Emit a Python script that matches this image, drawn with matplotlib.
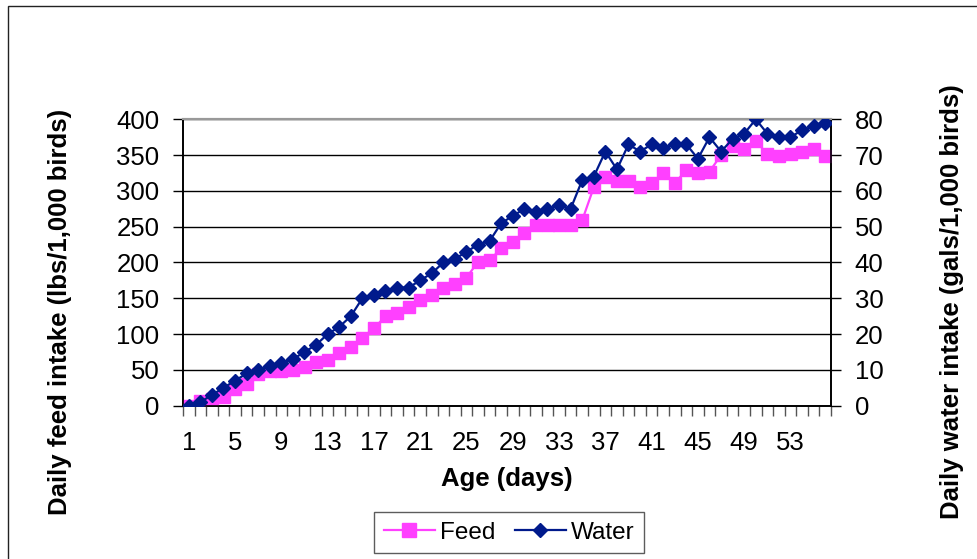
import numpy as np
import matplotlib.pyplot as plt
from matplotlib.patches import Rectangle
from matplotlib.lines import Line2D

plt.rcParams['font.family'] = ['Liberation Sans', 'DejaVu Sans']

# ---------- data ----------
days = list(range(1, 57))
feed = [0, 6, 9, 12, 23, 31, 44, 49, 49, 50,
        54, 61, 64, 73, 82, 95, 108, 125, 129, 138,
        148, 155, 165, 170, 179, 201, 203, 220, 229, 241,
        252, 252, 252, 253, 259, 305, 320, 314, 314, 305,
        311, 325, 311, 329, 325, 327, 350, 363, 359, 369,
        352, 349, 352, 355, 359, 349]
water = [0, 1, 3, 5, 7, 9, 10, 11, 12, 13,
         15, 17, 20, 22, 25, 30, 31, 32, 33, 33,
         35, 37, 40, 41, 43, 45, 46, 51, 53, 55,
         54, 55, 56, 55, 63, 64, 71, 66, 73, 71,
         73, 72, 73, 73, 69, 75, 71, 74.5, 76, 80,
         76, 75, 75, 77, 78, 79]
xtick_labels = [str(d) for d in range(1, 57, 4)]

feed_color = '#FF40FF'
water_color = '#001A8C'

# ---------- figure ----------
W, H = 977, 559
fig = plt.figure(figsize=(W / 100, H / 100), dpi=100)

# outer chart frame (right and bottom edges fall outside the image)
fig.patches.append(Rectangle((8 / W, -0.1), 1.0, 1.1 - 6 / H, transform=fig.transFigure,
                             fill=False, edgecolor='#222222', linewidth=1.0))

ax = fig.add_axes([183 / W, 1 - 405.7 / H, (831 - 183) / W, (405.7 - 119.3) / H])
ax2 = ax.twinx()

ax.plot(days, feed, color=feed_color, marker='s', markersize=9, linewidth=1.6,
        label='Feed', zorder=3)
ax2.plot(days, water, color=water_color, marker='D', markersize=7.5, linewidth=1.6,
         label='Water', zorder=3)

ax.set_xlim(0.5, 56.5)
ax.set_ylim(0, 400)
ax2.set_ylim(0, 80)
ax.set_yticks(range(0, 401, 50))
ax2.set_yticks(range(0, 81, 10))

ax.set_xticks(range(1, 57, 4))
ax.set_xticklabels(xtick_labels)
ax.set_xticks(np.arange(0.5, 57, 1), minor=True)
ax.tick_params(axis='x', which='major', length=0, pad=18, labelsize=18.5)
ax.tick_params(axis='x', which='minor', length=7, width=1, color='#555555', direction='out')
ax.tick_params(axis='y', length=7, width=1, pad=10, labelsize=18.5)
ax2.tick_params(axis='y', length=7, width=1, pad=10, labelsize=18.5)

ax.grid(axis='y', color='black', linewidth=1)
ax.set_axisbelow(True)

for a in (ax, ax2):
    a.spines['top'].set_color('#999999')
    a.spines['top'].set_linewidth(1.5)
    for s in ('left', 'right', 'bottom'):
        a.spines[s].set_color('black')
        a.spines[s].set_linewidth(1.2)

ax.set_xlabel('Age (days)', fontsize=18.5, fontweight='bold', labelpad=9)

# axis titles placed where the original puts them
fig.text(60 / W, 1 - 311.5 / H, 'Daily feed intake (lbs/1,000 birds)', rotation=90,
         ha='center', va='center', fontsize=18.5, fontweight='bold')
fig.text(952 / W, 1 - 302 / H, 'Daily water intake (gals/1,000 birds)', rotation=90,
         ha='center', va='center', fontsize=18.5, fontweight='bold')

handles = [Line2D([], [], color=feed_color, marker='s', markersize=10, linewidth=1.6),
           Line2D([], [], color=water_color, marker='D', markersize=7, linewidth=1.6)]
leg = fig.legend(handles, ['Feed', 'Water'], loc='center', ncol=2,
                 bbox_to_anchor=(509 / W, 1 - 532.5 / H), fontsize=17.5,
                 frameon=True, fancybox=False, edgecolor='#333333',
                 handlelength=2.1, handletextpad=0.2, columnspacing=0.8,
                 borderpad=0.4, borderaxespad=0)
leg.get_frame().set_linewidth(1.0)

fig.savefig('out.png', dpi=100)
